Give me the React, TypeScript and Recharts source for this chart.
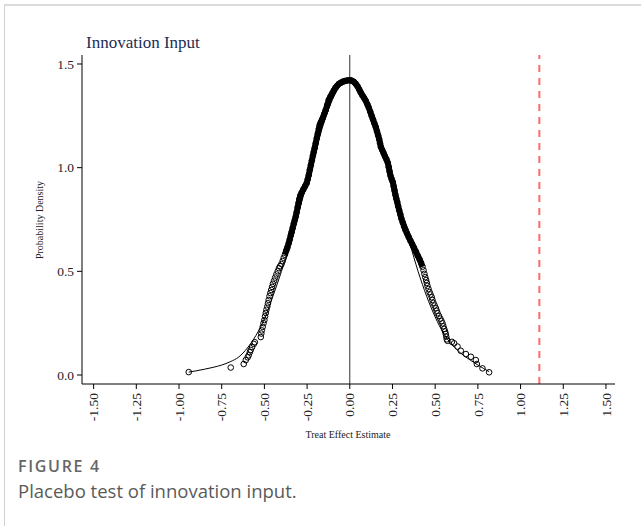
import React from 'react';
import { ComposedChart, Line, Scatter, XAxis, YAxis, ReferenceLine } from 'recharts';

// placebo estimates and their density
const placeboPts: [number, number][] = [
  [-0.943, 0.014], [-0.697, 0.036], [-0.621, 0.053], [-0.609, 0.072], [-0.598, 0.085],
  [-0.592, 0.095], [-0.585, 0.11], [-0.58, 0.121], [-0.572, 0.135], [-0.562, 0.15],
  [-0.556, 0.158], [-0.521, 0.183], [-0.518, 0.2], [-0.515, 0.215], [-0.51, 0.232],
  [-0.505, 0.25], [-0.5, 0.265], [-0.496, 0.283], [-0.492, 0.299], [-0.488, 0.315],
  [-0.483, 0.33], [-0.479, 0.346], [-0.475, 0.362], [-0.47, 0.38], [-0.465, 0.395],
  [-0.46, 0.41], [-0.455, 0.425], [-0.45, 0.44], [-0.443, 0.455], [-0.437, 0.47],
  [-0.43, 0.485], [-0.422, 0.5], [-0.415, 0.515], [-0.408, 0.525], [-0.4, 0.535],
  [-0.393, 0.55], [-0.387, 0.565],
  [-0.38, 0.58], [-0.372, 0.6], [-0.365, 0.615], [-0.357, 0.637], [-0.351, 0.655],
  [-0.345, 0.675], [-0.34, 0.69], [-0.334, 0.71], [-0.328, 0.73], [-0.322, 0.748],
  [-0.316, 0.765], [-0.311, 0.785], [-0.305, 0.81], [-0.3, 0.83], [-0.296, 0.848],
  [-0.29, 0.865], [-0.282, 0.88], [-0.272, 0.895], [-0.262, 0.91], [-0.252, 0.926],
  [-0.246, 0.945], [-0.24, 0.965], [-0.234, 0.99], [-0.228, 1.012], [-0.222, 1.035],
  [-0.216, 1.058], [-0.211, 1.076], [-0.205, 1.095], [-0.199, 1.118], [-0.193, 1.143],
  [-0.187, 1.165], [-0.181, 1.188], [-0.176, 1.206], [-0.17, 1.218], [-0.164, 1.228],
  [-0.158, 1.24], [-0.15, 1.258], [-0.141, 1.278], [-0.132, 1.302], [-0.123, 1.327],
  [-0.114, 1.342], [-0.104, 1.357], [-0.094, 1.372], [-0.084, 1.385], [-0.074, 1.395],
  [-0.064, 1.404], [-0.052, 1.41], [-0.04, 1.415], [-0.029, 1.418], [-0.015, 1.421],
  [0, 1.422], [0.012, 1.42], [0.024, 1.414], [0.035, 1.405], [0.045, 1.393],
  [0.055, 1.378], [0.064, 1.362], [0.074, 1.348], [0.084, 1.336], [0.094, 1.322],
  [0.103, 1.306], [0.111, 1.29], [0.12, 1.27], [0.128, 1.25], [0.136, 1.232],
  [0.144, 1.214], [0.152, 1.196], [0.159, 1.176], [0.166, 1.156], [0.172, 1.138],
  [0.177, 1.118], [0.182, 1.1], [0.19, 1.085], [0.198, 1.07], [0.206, 1.055],
  [0.215, 1.04], [0.223, 1.023], [0.228, 1.003], [0.233, 0.982], [0.238, 0.962],
  [0.245, 0.945], [0.252, 0.93], [0.257, 0.91], [0.262, 0.89], [0.267, 0.87],
  [0.272, 0.852], [0.278, 0.835], [0.283, 0.815], [0.289, 0.795], [0.296, 0.775],
  [0.302, 0.755], [0.31, 0.735], [0.318, 0.716], [0.326, 0.7], [0.335, 0.683],
  [0.345, 0.665], [0.355, 0.648], [0.365, 0.632], [0.375, 0.615], [0.387, 0.595],
  [0.398, 0.575], [0.409, 0.557], [0.418, 0.54], [0.426, 0.522],
  [0.432, 0.505], [0.437, 0.488], [0.442, 0.472], [0.447, 0.458], [0.451, 0.444],
  [0.455, 0.43], [0.461, 0.415], [0.467, 0.4], [0.473, 0.388], [0.48, 0.375],
  [0.484, 0.362], [0.49, 0.348], [0.497, 0.335], [0.504, 0.322], [0.509, 0.31],
  [0.514, 0.298], [0.522, 0.285], [0.53, 0.272], [0.537, 0.26], [0.543, 0.249],
  [0.548, 0.235], [0.553, 0.222], [0.558, 0.21], [0.562, 0.198], [0.565, 0.185],
  [0.568, 0.172], [0.572, 0.165], [0.598, 0.16], [0.611, 0.153], [0.631, 0.137],
  [0.65, 0.117], [0.68, 0.101], [0.709, 0.088], [0.738, 0.072], [0.744, 0.053],
  [0.777, 0.032], [0.816, 0.013],
];

// where the markers pile up into a solid black band
const bandPts: [number, number][] = [
  [-0.38, 0.58], [-0.357, 0.637], [-0.334, 0.71], [-0.316, 0.765], [-0.305, 0.81],
  [-0.29, 0.865], [-0.272, 0.895], [-0.252, 0.926], [-0.24, 0.965], [-0.228, 1.012],
  [-0.211, 1.076], [-0.193, 1.143], [-0.176, 1.206], [-0.158, 1.24], [-0.141, 1.278],
  [-0.123, 1.327], [-0.104, 1.357], [-0.084, 1.385], [-0.064, 1.404], [-0.04, 1.415],
  [0, 1.422], [0.024, 1.414], [0.045, 1.393], [0.064, 1.362], [0.094, 1.322],
  [0.111, 1.29], [0.136, 1.232], [0.152, 1.196], [0.172, 1.138], [0.182, 1.1],
  [0.206, 1.055], [0.223, 1.023], [0.238, 0.962], [0.252, 0.93], [0.267, 0.87],
  [0.283, 0.815], [0.302, 0.755], [0.326, 0.7], [0.355, 0.648], [0.387, 0.595],
  [0.409, 0.557], [0.426, 0.522],
];

// thin fitted density curve
const curvePts: [number, number][] = [
  [-0.943, 0.014], [-0.9, 0.02], [-0.85, 0.028], [-0.8, 0.037], [-0.75, 0.048],
  [-0.7, 0.064], [-0.65, 0.087], [-0.6, 0.13], [-0.55, 0.19], [-0.5, 0.27],
  [-0.45, 0.38], [-0.4, 0.5], [-0.35, 0.63], [-0.3, 0.78], [-0.25, 0.93],
  [-0.2, 1.08], [-0.15, 1.22], [-0.1, 1.33], [-0.05, 1.4], [0, 1.42],
  [0.05, 1.4], [0.1, 1.33], [0.15, 1.21], [0.2, 1.08], [0.25, 0.94],
  [0.3, 0.79], [0.35, 0.64], [0.4, 0.5], [0.45, 0.38], [0.5, 0.28],
  [0.55, 0.2], [0.6, 0.145], [0.65, 0.105], [0.7, 0.075], [0.75, 0.048],
  [0.816, 0.016],
];

const xTicks = [-1.5, -1.25, -1, -0.75, -0.5, -0.25, 0, 0.25, 0.5, 0.75, 1, 1.25, 1.5];
const yTicks = [0, 0.5, 1, 1.5];
const trueEffect = 1.11;

const toRows = (pts: [number, number][]) => pts.map(([x, y]) => ({ x, y }));

const serif = '"Liberation Serif", "Times New Roman", serif';

const XTick = (props: any) => {
  const { x, y, payload } = props;
  return (
    <text
      x={x}
      y={y}
      transform={`rotate(-90 ${x} ${y})`}
      textAnchor="end"
      dy="0.35em"
      fontSize={13.5}
      fontFamily={serif}
      fill="#222"
    >
      {payload.value.toFixed(2)}
    </text>
  );
};

const Ring = (props: any) => (
  <circle cx={props.cx} cy={props.cy} r={2.8} fill="none" stroke="#000" strokeWidth={1} />
);

export default function App() {
  return (
    <div style={{ position: 'absolute', left: 0, top: 0, width: 641, height: 526, background: '#fff' }}>
      <div style={{ position: 'absolute', left: 4, top: 4, right: 0, bottom: 0, borderTop: '2px solid #dadada', borderLeft: '1px solid #d0d0d0' }} />
      <div style={{ position: 'absolute', left: 86, top: 34, fontFamily: serif, fontSize: 17, lineHeight: '17px', color: '#1c2d54' }}>
        Innovation Input
      </div>
      <ComposedChart
        width={641}
        height={450}
        margin={{ top: 55, right: 26, left: 52, bottom: 26 }}
        style={{ position: 'absolute', left: 0, top: 0 }}
      >
        <XAxis
          type="number"
          dataKey="x"
          domain={[-1.568, 1.553]}
          ticks={xTicks}
          allowDataOverflow
          interval={0}
          height={40}
          stroke="#000"
          tickSize={5}
          tickMargin={4}
          tick={<XTick />}
        />
        <YAxis
          type="number"
          dataKey="y"
          domain={[-0.0434, 1.5434]}
          ticks={yTicks}
          allowDataOverflow
          width={30}
          stroke="#000"
          tickSize={5}
          tickMargin={3}
          tickFormatter={(v: number) => v.toFixed(1)}
          tick={{ fontSize: 13.5, fontFamily: serif, fill: '#222' }}
        />
        <ReferenceLine x={0} stroke="#333" strokeWidth={1} />
        <ReferenceLine x={trueEffect} stroke="#ff6b6b" strokeWidth={2} strokeDasharray="7 6" />
        <Line
          data={toRows(curvePts)}
          dataKey="y"
          type="monotone"
          stroke="#000"
          strokeWidth={1}
          dot={false}
          isAnimationActive={false}
        />
        <Line
          data={toRows(bandPts)}
          dataKey="y"
          type="linear"
          stroke="#000"
          strokeWidth={6}
          dot={false}
          isAnimationActive={false}
        />
        <Scatter data={toRows(placeboPts)} dataKey="y" shape={<Ring />} isAnimationActive={false} />
      </ComposedChart>
      <div
        style={{
          position: 'absolute', left: -20, top: 215, width: 120, textAlign: 'center',
          fontFamily: serif, fontSize: 10, lineHeight: '10px', color: '#222',
          transform: 'rotate(-90deg)',
        }}
      >
        Probability Density
      </div>
      <div style={{ position: 'absolute', left: 248, top: 430, width: 200, textAlign: 'center', fontFamily: serif, fontSize: 10, lineHeight: '10px', color: '#222' }}>
        Treat Effect Estimate
      </div>
      <div style={{ position: 'absolute', left: 18, top: 458, fontFamily: '"Open Sans", sans-serif', fontSize: 16, lineHeight: '17px', fontWeight: 600, letterSpacing: 1.7, color: '#666' }}>
        FIGURE 4
      </div>
      <div style={{ position: 'absolute', left: 18, top: 481, fontFamily: '"Open Sans", sans-serif', fontSize: 18.5, lineHeight: '19px', color: '#5a5a5a' }}>
        Placebo test of innovation input.
      </div>
    </div>
  );
}
